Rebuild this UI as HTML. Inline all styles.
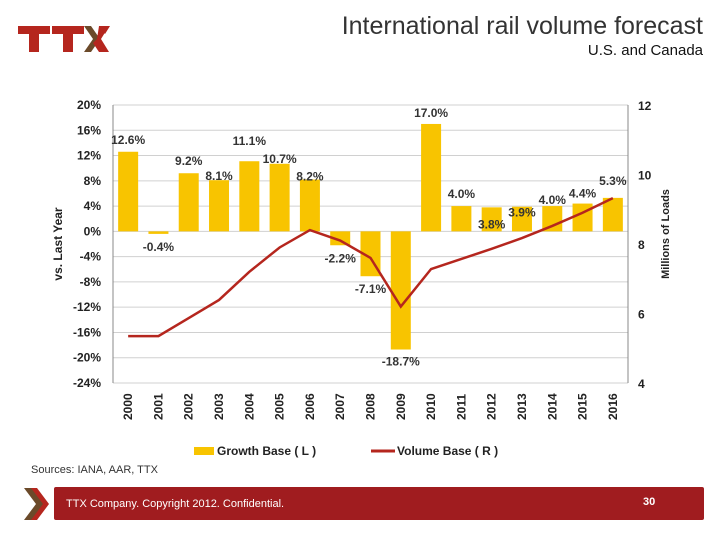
<!DOCTYPE html>
<html><head><meta charset="utf-8"><style>
body{margin:0;width:720px;height:540px;background:#fff;font-family:"Liberation Sans",sans-serif;overflow:hidden;position:relative}
.t{position:absolute}
</style></head><body>
<svg class="t" style="left:18px;top:24px" width="96" height="28">
<path d="M0 2h32v8h-11v18h-10v-18h-11z" fill="#b5261e"/>
<path d="M34 2h32v8h-11v18h-10v-18h-11z" fill="#b5261e"/>
<path d="M66 2h7l9 13-9 13h-7l9-13z" fill="#6b4a2a"/>
<path d="M74 2h8l5 8 5-8h-3z" fill="#b5261e"/>
<path d="M81 2h10l-8 13 8 13h-10l-6-9 4-4z" fill="#b5261e"/>
</svg>
<div class="t" style="right:17px;top:12px;font-size:25px;color:#333">International rail volume forecast</div>
<div class="t" style="right:17px;top:42px;font-size:15px;color:#111">U.S. and Canada</div>
<div class="t" style="left:31px;top:464px;font-size:11px;color:#333">Sources: IANA, AAR, TTX</div>
<svg class="t" style="left:22px;top:486px" width="30" height="36">
<path d="M2 2h8l12 16-12 16h-8l12-16z" fill="#6b4a2a"/><path d="M9 2h6l12 16-12 16h-6l12-16z" fill="#b5261e"/></svg>
<div class="t" style="left:54px;top:487px;width:650px;height:33px;background:#a01c1f;border-radius:2px"></div>
<div class="t" style="left:66px;top:498px;font-size:11px;color:#fff">TTX Company. Copyright 2012. Confidential.</div>
<div class="t" style="left:643px;top:496px;font-size:11px;color:#fff;font-weight:bold">30</div>
<svg id="c" class="t" style="left:0;top:0" width="720" height="480"></svg>
<script>
const years=["2000","2001","2002","2003","2004","2005","2006","2007","2008","2009","2010","2011","2012","2013","2014","2015","2016"];
const growth=[12.6,-0.4,9.2,8.1,11.1,10.7,8.2,-2.2,-7.1,-18.7,17.0,4.0,3.8,3.9,4.0,4.4,5.3];
const volume=[5.35,5.35,5.87,6.39,7.2,7.9,8.4,8.1,7.6,6.2,7.28,7.57,7.86,8.17,8.52,8.9,9.32];
const leftTicks=[20,16,12,8,4,0,-4,-8,-12,-16,-20,-24];
const rightTicks=[12,10,8,6,4];
const labelDy=[-12,-13,-12,-4,-20,-5,-3,-13,-13,-12,-11,-12,17,6,-6,-10,-17];
const labelDx=[0,0,0,0,0,0,0,0,0,0,0,0,0,0,0,0,0];
const NS="http://www.w3.org/2000/svg",svg=document.getElementById('c');
const x0=113,x1=628,yT=105,yB=383;
const bw=(x1-x0)/years.length;
const xs=i=>x0+bw*(i+0.5);
const yL=v=>yT+(20-v)/44*(yB-yT);
const yR=v=>yT+(12-v)/8*(yB-yT);
function mk(t,a,p){const e=document.createElementNS(NS,t);for(const k in a)e.setAttribute(k,a[k]);(p||svg).appendChild(e);return e;}
leftTicks.forEach(v=>{
const g=mk('line',{x1:x0,x2:x1,y1:yL(v),y2:yL(v),stroke:'#d0d0d0','stroke-width':1});


const t=mk('text',{x:101,y:yL(v)+4,'text-anchor':'end','font-size':12,'font-weight':'bold',fill:'#222'});t.textContent=v+'%';


});
rightTicks.forEach(v=>{
const t=mk('text',{x:638,y:yR(v)+5,'font-size':12,'font-weight':'bold',fill:'#222'});t.textContent=v;


});
mk('line',{x1:x0,x2:x0,y1:yT,y2:yB,stroke:'#888'});
mk('line',{x1:x1,x2:x1,y1:yT,y2:yB,stroke:'#888'});
growth.forEach((v,i)=>{
const y0=yL(0),y=yL(v);
const r=mk('rect',{x:xs(i)-10,y:Math.min(y,y0),width:20,height:Math.abs(y-y0),fill:'#f8c400'});


const ly=v>=0?y+labelDy[i]+4:y+(-labelDy[i])+4;
const t=mk('text',{x:xs(i)+labelDx[i],y:ly,'text-anchor':'middle','font-size':12,'font-weight':'bold',fill:'#333'});
t.textContent=v.toFixed(1)+'%';


const yl=mk('text',{transform:`translate(${xs(i)+4},420) rotate(-90)`,'font-size':12,'font-weight':'bold',fill:'#222'});
yl.textContent=years[i];


});
const p=mk('polyline',{points:volume.map((v,i)=>xs(i)+','+yR(v)).join(' '),fill:'none',stroke:'#b5261e','stroke-width':2.5});


const ya=mk('text',{transform:'translate(62,244) rotate(-90)','text-anchor':'middle','font-size':12,'font-weight':'bold',fill:'#222'});ya.textContent='vs. Last Year';


const yb=mk('text',{transform:'translate(669,234) rotate(-90)','text-anchor':'middle','font-size':11,'font-weight':'bold',fill:'#222'});yb.textContent='Millions of Loads';


const lr=mk('rect',{x:194,y:447,width:20,height:8,fill:'#f8c400'});


const lt=mk('text',{x:217,y:455,'font-size':12,'font-weight':'bold',fill:'#222'});lt.textContent='Growth Base ( L )';


const ll=mk('line',{x1:371,x2:395,y1:451,y2:451,stroke:'#b5261e','stroke-width':3});


const lt2=mk('text',{x:397,y:455,'font-size':12,'font-weight':'bold',fill:'#222'});lt2.textContent='Volume Base ( R )';


</script>
</body></html>
